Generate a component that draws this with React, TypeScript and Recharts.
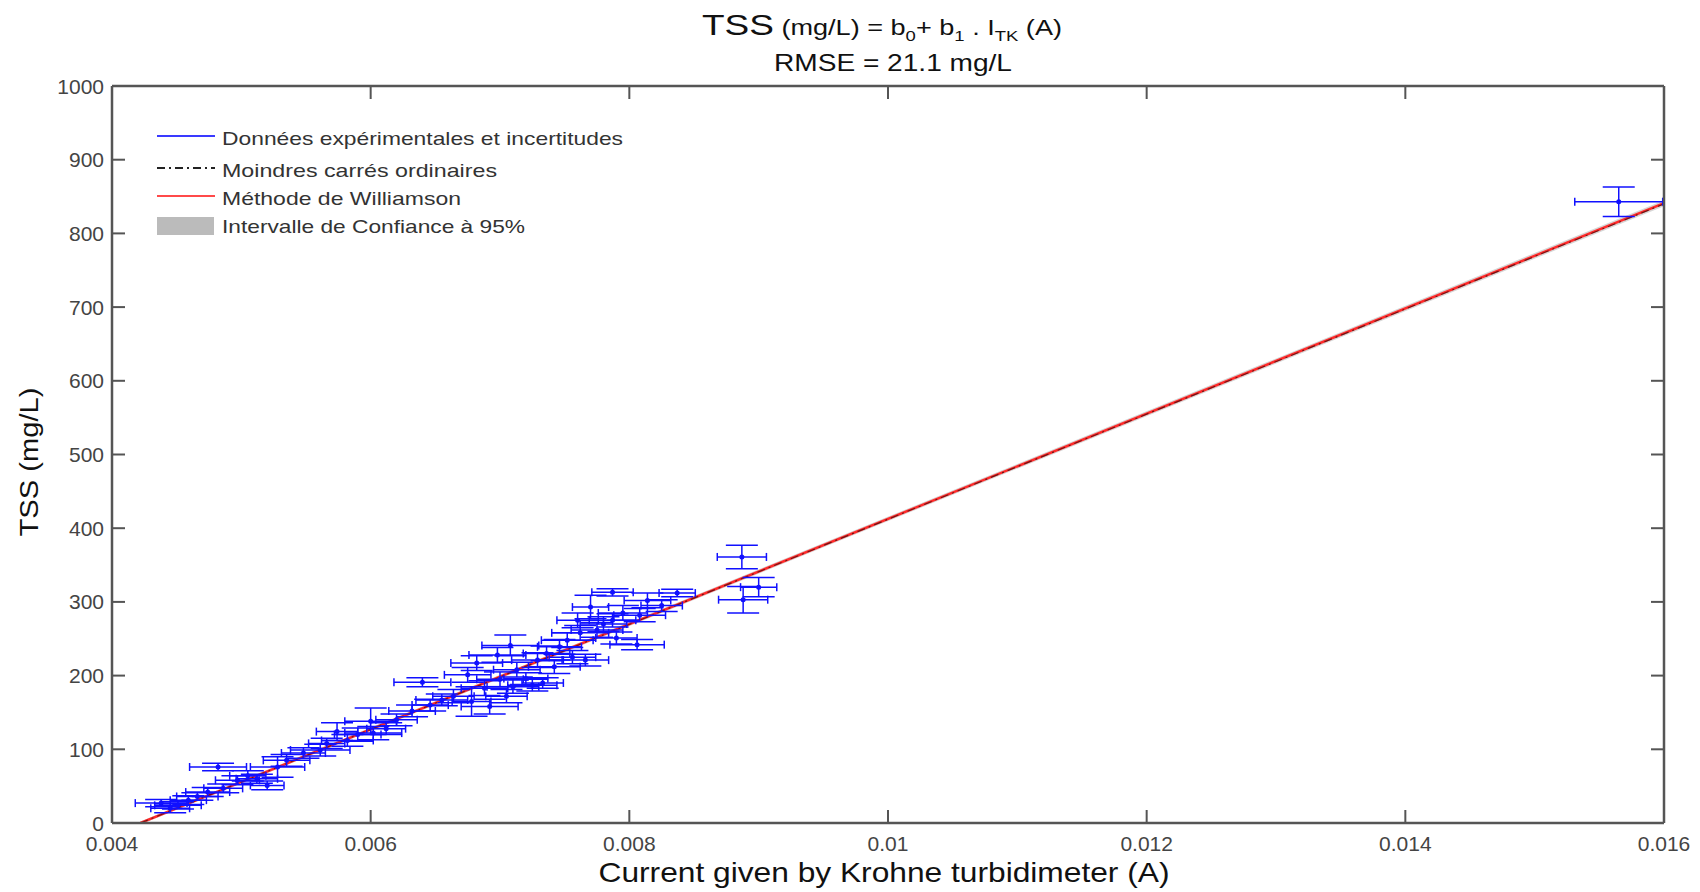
import React from 'react';
import { ComposedChart, XAxis, YAxis, Scatter, ErrorBar, Line, Area } from 'recharts';

// Experimental data: current (A), TSS (mg/L), uncertainty on current, uncertainty on TSS
const ptX = [
  0.00438, 0.00445, 0.00451, 0.00459, 0.00466, 0.00474, 0.00482, 0.00486, 0.00497, 0.00505,
  0.00512, 0.0052, 0.00528, 0.00535, 0.00548, 0.00561, 0.00566, 0.00574, 0.00582, 0.0059,
  0.006, 0.00602, 0.00612, 0.0062, 0.00632, 0.0064, 0.00646, 0.00655, 0.00664, 0.00675,
  0.00678, 0.00682, 0.00688, 0.00692, 0.00698, 0.007, 0.00705, 0.00708, 0.0071, 0.00713,
  0.0072, 0.00725, 0.00729, 0.00733, 0.00736, 0.00742, 0.00746, 0.00752, 0.00756, 0.0076,
  0.00762, 0.00766, 0.0077, 0.00775, 0.0078, 0.00787, 0.00787, 0.0079, 0.00795, 0.00806,
  0.00808, 0.00814, 0.00825, 0.00837, 0.00887, 0.00888, 0.009, 0.01565,
];
const ptY = [
  27, 20, 24, 31, 36, 42, 76, 47, 58, 64,
  60, 51, 76, 85, 95, 99, 108, 124, 112, 120,
  138, 122, 128, 140, 152, 191, 160, 167, 172, 201,
  165, 217, 183, 158, 228, 195, 172, 241, 185, 208,
  196, 187, 221, 190, 230, 212, 239, 248, 225, 275,
  258, 221, 293, 262, 270, 313, 275, 251, 285, 242,
  282, 302, 295, 312, 361, 303, 320, 843,
];
const errX = [
  0.0002, 0.00015, 0.00018, 0.00014, 0.00016, 0.00017, 0.00022, 0.00015, 0.00017, 0.00014,
  0.00016, 0.00013, 0.00021, 0.00018, 0.00017, 0.00023, 0.00014, 0.00016, 0.0002, 0.00018,
  0.0002, 0.00022, 0.00015, 0.00016, 0.00018, 0.00022, 0.00014, 0.0002, 0.00016, 0.00018,
  0.00015, 0.0002, 0.00018, 0.00022, 0.00022, 0.00018, 0.00016, 0.00022, 0.0002, 0.00018,
  0.00017, 0.00019, 0.0002, 0.00016, 0.00018, 0.0002, 0.00017, 0.0002, 0.00018, 0.00016,
  0.00022, 0.00018, 0.00014, 0.0002, 0.00018, 0.00016, 0.00018, 0.00016, 0.00019, 0.00021,
  0.0002, 0.00018, 0.00016, 0.00014, 0.00019, 0.00019, 0.00014, 0.00034,
];
const errY = [
  5, 6, 5, 6, 5, 6, 5, 6, 6, 7,
  6, 6, 14, 8, 7, 8, 7, 12, 8, 9,
  18, 9, 8, 8, 8, 6, 8, 8, 9, 10,
  20, 10, 10, 10, 10, 10, 9, 14, 9, 10,
  8, 8, 10, 7, 10, 9, 10, 10, 9, 10,
  10, 8, 16, 10, 10, 5, 9, 8, 10, 7,
  9, 10, 8, 5, 16, 18, 13, 20,
];

// Regression lines (end points) and 95% confidence band
const fitX = [0.00422, 0.016];
const williamsonY = [0, 841];
const olsY = [0, 840];
const bandLow = [-2, 837];
const bandHigh = [2, 845];

// Axis ticks
const xTicks = [0.004, 0.006, 0.008, 0.01, 0.012, 0.014, 0.016];
const xTickLabels = ['0.004', '0.006', '0.008', '0.01', '0.012', '0.014', '0.016'];
const yTicks = [0, 100, 200, 300, 400, 500, 600, 700, 800, 900, 1000];

const legendLabels = [
  'Données expérimentales et incertitudes',
  'Moindres carrés ordinaires',
  'Méthode de Williamson',
  'Intervalle de Confiance à 95%',
];

const points = ptX.map((x, i) => ({ x, y: ptY[i], ex: errX[i], ey: errY[i] }));
const williamsonData = fitX.map((x, i) => ({ x, y: williamsonY[i] }));
const olsData = fitX.map((x, i) => ({ x, y: olsY[i] }));
const bandData = fitX.map((x, i) => ({ x, band: [bandLow[i], bandHigh[i]] }));

const FONT = '"Liberation Sans", Arial, sans-serif';
const AX = '#555';
const BLUE = '#1010ff';

const BottomTick = (props: any) => {
  const { x, y, payload } = props;
  const idx = xTicks.indexOf(payload.value);
  return (
    <g>
      <line x1={x} x2={x} y1={y} y2={y - 13} stroke={AX} strokeWidth={2} />
      <text x={x} y={y + 28} textAnchor="middle" fontSize={21} fill="#444" fontFamily={FONT}>
        {idx >= 0 ? xTickLabels[idx] : String(payload.value)}
      </text>
    </g>
  );
};
const TopTick = (props: any) => {
  const { x, y } = props;
  return <line x1={x} x2={x} y1={y} y2={y + 13} stroke={AX} strokeWidth={2} />;
};
const LeftTick = (props: any) => {
  const { x, y, payload } = props;
  return (
    <g>
      <line x1={x} x2={x + 13} y1={y} y2={y} stroke={AX} strokeWidth={2} />
      <text x={x - 8} y={y + 7.5} textAnchor="end" fontSize={21} fill="#444" fontFamily={FONT}>
        {String(payload.value)}
      </text>
    </g>
  );
};
const RightTick = (props: any) => {
  const { x, y } = props;
  return <line x1={x} x2={x - 13} y1={y} y2={y} stroke={AX} strokeWidth={2} />;
};

const Dot = (props: any) => {
  const { cx, cy } = props;
  return <circle cx={cx} cy={cy} r={2.5} fill={BLUE} />;
};

export default function App() {
  return (
    <div style={{ position: 'absolute', left: 0, top: 0, width: 1700, height: 892, background: '#fff' }}>
      <ComposedChart width={1700} height={892} margin={{ top: 85, right: 35, bottom: 0, left: 0 }}>
        <XAxis
          xAxisId={0}
          dataKey="x"
          type="number"
          domain={[0.004, 0.016]}
          allowDataOverflow
          ticks={xTicks}
          interval={0}
          height={69}
          tickSize={0}
          tickMargin={0}
          tick={<BottomTick />}
          axisLine={{ stroke: AX, strokeWidth: 2.5 }}
          tickLine={false}
        />
        <XAxis
          xAxisId="top"
          orientation="top"
          dataKey="x"
          type="number"
          domain={[0.004, 0.016]}
          allowDataOverflow
          ticks={xTicks}
          interval={0}
          height={1}
          tickSize={0}
          tickMargin={0}
          tick={<TopTick />}
          axisLine={{ stroke: AX, strokeWidth: 2.5 }}
          tickLine={false}
        />
        <YAxis
          yAxisId={0}
          type="number"
          domain={[0, 1000]}
          allowDataOverflow
          ticks={yTicks}
          interval={0}
          width={112}
          tickSize={0}
          tickMargin={0}
          tick={<LeftTick />}
          axisLine={{ stroke: AX, strokeWidth: 2.5 }}
          tickLine={false}
        />
        <YAxis
          yAxisId="right"
          orientation="right"
          type="number"
          domain={[0, 1000]}
          allowDataOverflow
          ticks={yTicks}
          interval={0}
          width={1}
          tickSize={0}
          tickMargin={0}
          tick={<RightTick />}
          axisLine={{ stroke: AX, strokeWidth: 2.5 }}
          tickLine={false}
        />
        <Area
          data={bandData}
          dataKey="band"
          type="linear"
          fill="#c4c4c4"
          fillOpacity={0.7}
          stroke="none"
          isAnimationActive={false}
        />
        <Line
          data={williamsonData}
          dataKey="y"
          type="linear"
          stroke="#ff2a2a"
          strokeWidth={2.5}
          dot={false}
          isAnimationActive={false}
        />
        <Line
          data={olsData}
          dataKey="y"
          type="linear"
          stroke="#000"
          strokeOpacity={0.55}
          strokeWidth={1.2}
          strokeDasharray="8 4 2 4"
          dot={false}
          isAnimationActive={false}
        />
        {/* invisible series that binds the box (top/right) axes */}
        <Line
          xAxisId="top"
          yAxisId="right"
          data={williamsonData}
          dataKey="y"
          type="linear"
          stroke="none"
          strokeOpacity={0}
          dot={false}
          activeDot={false}
          isAnimationActive={false}
          legendType="none"
        />
        <Scatter data={points} dataKey="y" shape={<Dot />} isAnimationActive={false}>
          <ErrorBar direction="x" dataKey="ex" width={4} stroke={BLUE} strokeWidth={1.5} isAnimationActive={false} />
          <ErrorBar direction="y" dataKey="ey" width={16} stroke={BLUE} strokeWidth={1.5} isAnimationActive={false} />
        </Scatter>
      </ComposedChart>

      <svg
        width={1700}
        height={892}
        style={{ position: 'absolute', left: 0, top: 0, pointerEvents: 'none' }}
        fontFamily={FONT}
      >
        {/* Title */}
        <text x={882} y={35} textAnchor="middle" fill="#111" textLength={360} lengthAdjust="spacingAndGlyphs">
          <tspan fontSize={30}>TSS</tspan>
          <tspan fontSize={22}> (mg/L) = b</tspan>
          <tspan fontSize={15} dy={6}>0</tspan>
          <tspan fontSize={22} dy={-6}>+ b</tspan>
          <tspan fontSize={15} dy={6}>1</tspan>
          <tspan fontSize={22} dy={-6}> . I</tspan>
          <tspan fontSize={15} dy={6}>TK</tspan>
          <tspan fontSize={22} dy={-6}> (A)</tspan>
        </text>
        <text x={893} y={71} textAnchor="middle" fontSize={24} fill="#111" textLength={238} lengthAdjust="spacingAndGlyphs">
          RMSE = 21.1 mg/L
        </text>

        {/* Axis labels */}
        <text
          transform="translate(38,462) rotate(-90)"
          x={0}
          y={0}
          textAnchor="middle"
          fontSize={26}
          fill="#111"
          textLength={149}
          lengthAdjust="spacingAndGlyphs"
        >
          TSS (mg/L)
        </text>
        <text x={884} y={882} textAnchor="middle" fontSize={28} fill="#111" textLength={571} lengthAdjust="spacingAndGlyphs">
          Current given by Krohne turbidimeter  (A)
        </text>

        {/* Legend */}
        <line x1={157} x2={215} y1={136} y2={136} stroke="#3a3aff" strokeWidth={2} />
        <line x1={157} x2={215} y1={168} y2={168} stroke="#222" strokeWidth={2} strokeDasharray="8 4 2 4" />
        <line x1={157} x2={215} y1={196} y2={196} stroke="#ff4a4a" strokeWidth={2} />
        <rect x={157} y={217} width={57} height={18} fill="#bbb" />
        <text x={222} y={145} fontSize={19} fill="#333" textLength={401} lengthAdjust="spacingAndGlyphs">{legendLabels[0]}</text>
        <text x={222} y={177} fontSize={19} fill="#333" textLength={275} lengthAdjust="spacingAndGlyphs">{legendLabels[1]}</text>
        <text x={222} y={205} fontSize={19} fill="#333" textLength={239} lengthAdjust="spacingAndGlyphs">{legendLabels[2]}</text>
        <text x={222} y={233} fontSize={19} fill="#333" textLength={303} lengthAdjust="spacingAndGlyphs">{legendLabels[3]}</text>
      </svg>
    </div>
  );
}
